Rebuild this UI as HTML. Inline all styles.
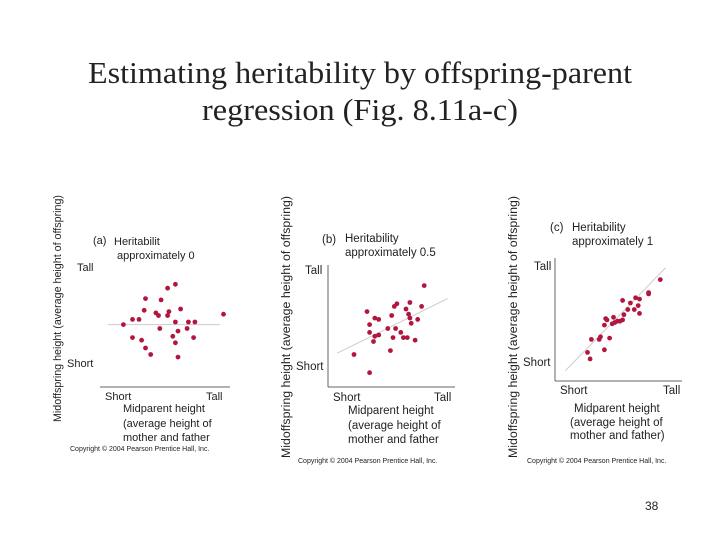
<!DOCTYPE html>
<html><head><meta charset="utf-8"><style>
body{margin:0;background:#fff}
svg text{font-family:"Liberation Sans",sans-serif;fill:#222}
</style></head><body>
<svg width="720" height="540" viewBox="0 0 720 540" id="s">
<text x="360" y="83" text-anchor="middle" textLength="544" lengthAdjust="spacingAndGlyphs" style="font-family:'Liberation Serif',serif;font-size:31px" fill="#000">Estimating heritability by offspring-parent</text>
<text x="360" y="120" text-anchor="middle" textLength="316" lengthAdjust="spacingAndGlyphs" style="font-family:'Liberation Serif',serif;font-size:31px" fill="#000">regression (Fig. 8.11a-c)</text>

<g font-size="11">
<text transform="translate(61,422) rotate(-90)" textLength="227" lengthAdjust="spacingAndGlyphs">Midoffspring height (average height of offspring)</text>
<text x="93" y="244">(a)</text>
<text x="114" y="245">Heritabilit</text>
<text x="117" y="259">approximately 0</text>
<text x="77" y="271">Tall</text>
<text x="67" y="367">Short</text>
<text x="105" y="400">Short</text>
<text x="206" y="400">Tall</text>
<text x="123" y="412">Midparent height</text>
<text x="123" y="427">(average height of</text>
<text x="123" y="441">mother and father</text>
<text x="70" y="451" font-size="7">Copyright © 2004 Pearson Prentice Hall, Inc.</text>
</g>
<g font-size="11.5" fill="#333">
<text transform="translate(290,458) rotate(-90)" textLength="262" lengthAdjust="spacingAndGlyphs">Midoffspring height (average height of offspring)</text>
<text x="322" y="243">(b)</text>
<text x="345" y="242">Heritability</text>
<text x="345" y="256">approximately 0.5</text>
<text x="305" y="274">Tall</text>
<text x="296" y="370">Short</text>
<text x="333" y="401">Short</text>
<text x="434" y="401">Tall</text>
<text x="348" y="414">Midparent height</text>
<text x="348" y="429">(average height of</text>
<text x="348" y="443">mother and father</text>
<text x="298" y="463" font-size="7">Copyright © 2004 Pearson Prentice Hall, Inc.</text>
</g>
<g font-size="11.5">
<text transform="translate(517,458) rotate(-90)" textLength="262" lengthAdjust="spacingAndGlyphs">Midoffspring height (average height of offspring)</text>
<text x="550" y="231">(c)</text>
<text x="572" y="231">Heritability</text>
<text x="572" y="245">approximately 1</text>
<text x="534" y="270">Tall</text>
<text x="523" y="366">Short</text>
<text x="560" y="394">Short</text>
<text x="663" y="394">Tall</text>
<text x="574" y="412">Midparent height</text>
<text x="570" y="426">(average height of</text>
<text x="570" y="439">mother and father)</text>
<text x="527" y="463" font-size="7">Copyright © 2004 Pearson Prentice Hall, Inc.</text>
</g>
<text x="645" y="510" font-size="12">38</text>
</svg>
<script>
const aX=[1.8,2.5,3.0,3.4,3.5,5.2,5.8,4.7,4.3,4.5,5.3,5.2,6.2,5.8,6.8,7.3,9.5,4.6,6.7,6.0,5.6,7.2,5.8,2.5,3.2,3.5,3.9,6.0];
const aY=[4.8,5.2,5.2,5.9,6.8,7.6,7.9,6.7,5.7,5.5,5.8,5.5,6.0,5.0,5.0,5.0,5.6,4.5,4.5,4.3,3.9,3.8,3.4,3.8,3.6,3.0,2.5,2.3];
const bX=[2.0,3.2,3.0,3.2,3.6,3.9,3.2,3.6,3.9,3.5,4.6,4.9,5.1,5.3,5.0,5.2,5.6,5.8,6.1,4.8,6.0,6.2,6.3,6.4,6.9,6.3,7.2,7.4,6.7];
const bY=[2.5,1.1,5.8,4.8,5.3,5.2,4.2,3.9,4.0,3.5,4.5,5.5,6.2,6.4,3.8,4.5,4.2,3.8,3.8,2.8,6.0,5.6,5.3,4.9,5.2,6.5,6.2,7.8,3.6];
const cX=[2.5,2.7,2.8,3.4,3.5,3.8,4.2,3.8,3.9,4.0,4.5,4.4,4.6,4.8,5.0,5.2,5.3,5.6,5.2,5.8,6.1,6.5,6.4,6.2,6.5,7.2,7.2,8.1];
const cY=[2.2,1.7,3.2,3.2,3.4,2.4,3.3,4.3,4.8,4.7,4.9,4.4,4.5,4.6,4.6,4.7,5.1,5.5,6.2,6.0,5.5,5.2,5.8,6.4,6.3,6.7,6.8,7.8];
const aLine=[[0.6,4.8],[9.2,4.8]];
const bLine=[[0.7,2.6],[9.2,6.8]];
const cLine=[[0.8,0.8],[8.5,8.7]];
const NS='http://www.w3.org/2000/svg';
const svg=document.getElementById('s');
function mk(t,a){const e=document.createElementNS(NS,t);for(const k in a)e.setAttribute(k,a[k]);return e;}
function panel(name,ox,oy,xs,ys,line,axes){
  const u=13;
  const x=v=>ox+v*u, y=v=>oy-v*u;
  const g=mk('g',{});
  
  
  svg.appendChild(g);
  const xa=mk('line',{x1:ox,y1:oy,x2:ox+axes[0],y2:oy,stroke:'#666','stroke-width':1});
  
  
  g.appendChild(xa);
  if(axes[1]){const ya=mk('line',{x1:ox,y1:oy,x2:ox,y2:oy-axes[1],stroke:'#666','stroke-width':1});
  
  
  g.appendChild(ya);}
  const l=mk('line',{x1:x(line[0][0]),y1:y(line[0][1]),x2:x(line[1][0]),y2:y(line[1][1]),stroke:'#ccc','stroke-width':1});
  
  
  g.appendChild(l);
  xs.forEach((v,i)=>{const c=mk('circle',{cx:x(v),cy:y(ys[i]),r:2.4,fill:'#b3163c'});
    
    
    g.appendChild(c);});
}
panel('panel-a',100,387,aX,aY,aLine,[130,0]);
panel('panel-b',328,387,bX,bY,bLine,[127,122]);
panel('panel-c',555,381,cX,cY,cLine,[127,123]);
</script>
</body></html>
